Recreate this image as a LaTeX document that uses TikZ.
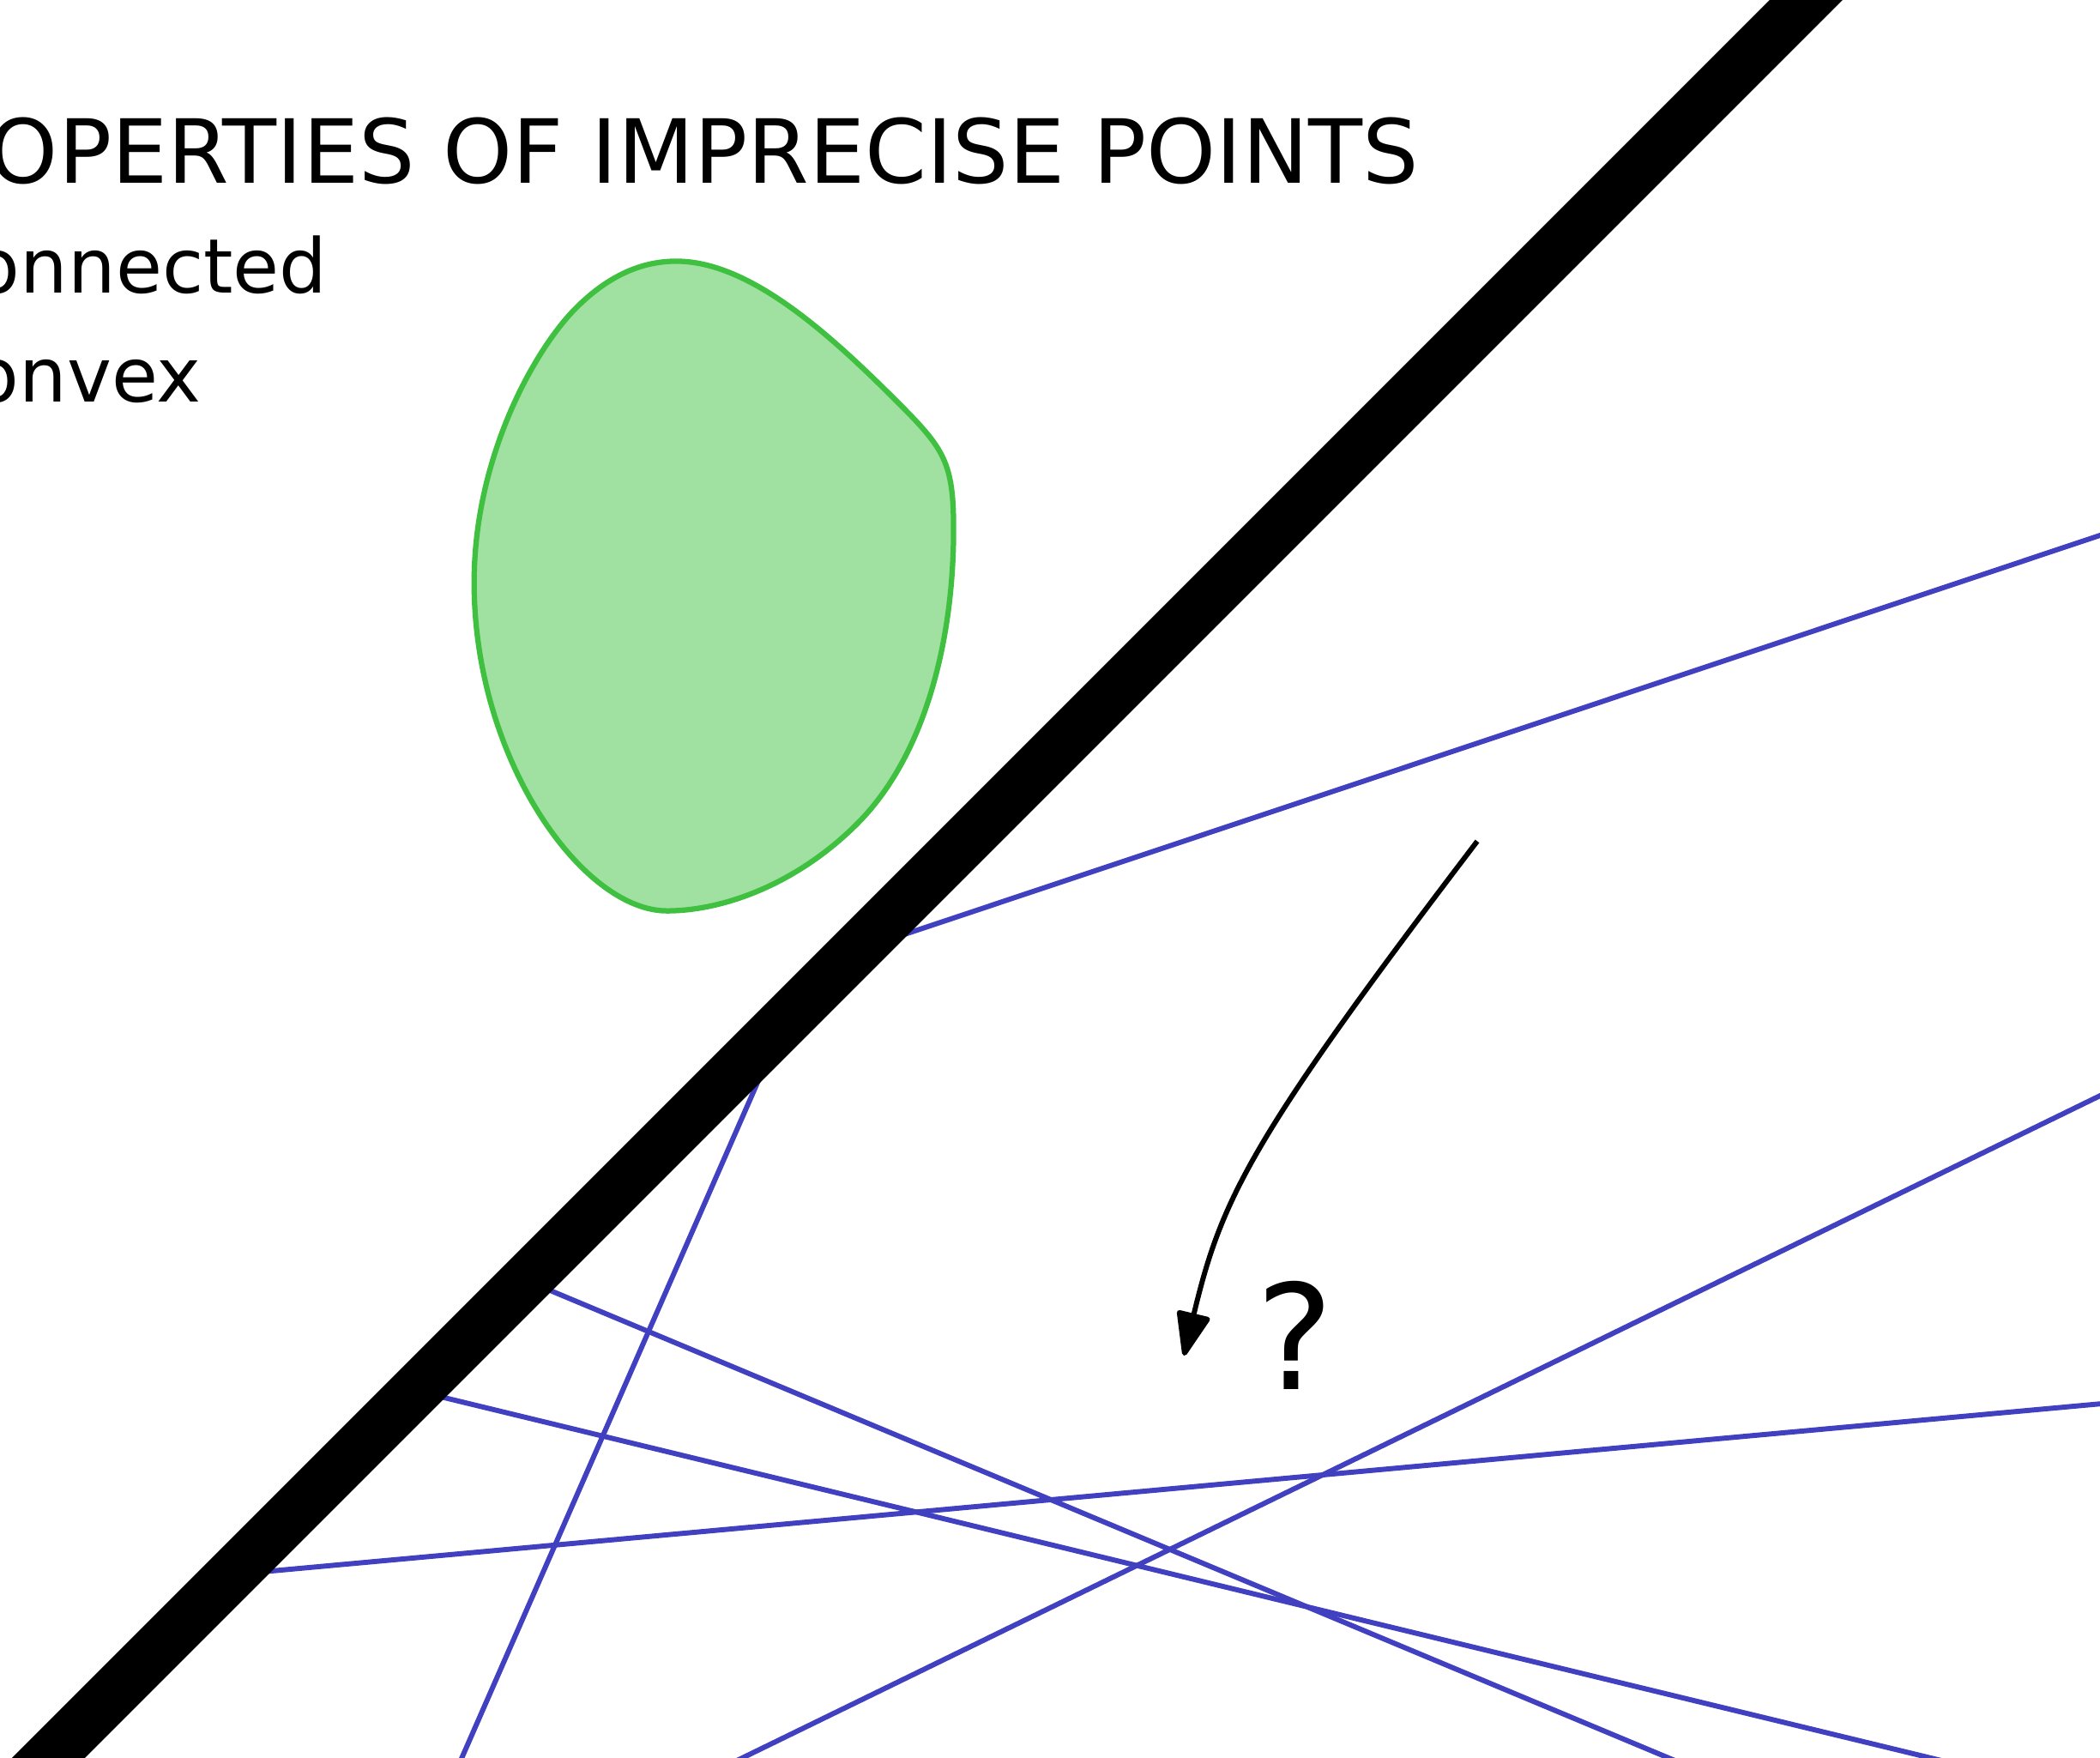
\documentclass[tikz,border=0pt]{standalone}
\usepackage{fontspec}
\setmainfont{DejaVu Sans}
\usetikzlibrary{arrows.meta}
\definecolor{RegionFill}{HTML}{A0E0A0}
\definecolor{RegionEdge}{HTML}{40C040}
\definecolor{DualBlue}{HTML}{4040C0}

\begin{document}
\begin{tikzpicture}[
  titletext/.style={anchor=base east,inner sep=0pt,font=\fontsize{18.8}{22}\selectfont},
  itemtext/.style={anchor=base east,inner sep=0pt,font=\fontsize{16}{19}\selectfont},
  region/.style={draw=RegionEdge,fill=RegionFill,line width=0.4mm},
  dual/.style={DualBlue,line width=0.38mm},
  wall/.style={line width=3.85mm},
  move/.style={-{Triangle[length=3.6mm,width=2.6mm,round]},line width=0.38mm}
]
\useasboundingbox (0,0) rectangle (15.68,13.12);
\clip (0,0) rectangle (15.68,13.12);

% imprecise point
\draw[region] (5.05,11.17)
  .. controls (5.60,11.17) and (6.20,10.62) .. (6.70,10.12)
  .. controls (7.05,9.77) and (7.12,9.67) .. (7.12,9.17)
  .. controls (7.12,8.32) and (6.90,7.47) .. (6.40,6.97)
  .. controls (5.95,6.52) and (5.40,6.32) .. (4.98,6.32)
  .. controls (4.35,6.32) and (3.54,7.45) .. (3.54,8.77)
  .. controls (3.54,9.72) and (4.00,10.52) .. (4.30,10.82)
  .. controls (4.55,11.07) and (4.80,11.17) .. cycle;

% dual lines
\draw[dual] (6.38,6.02) -- (16.00,9.23);
\draw[dual] (5.853,5.488) -- (3.327,-0.28);
\draw[dual] (3.927,3.562) -- (13.12,-0.28);
\draw[dual] (3.103,2.738) -- (15.555,-0.28);
\draw[dual] (1.73,1.365) -- (16.00,2.669);
\draw[dual] (4.976,-0.28) -- (16.00,5.096);

% separating line
\draw[wall] (13.885,13.52) -- (-0.015,-0.38);

% text
\node[titletext] (title) at (10.60,11.75) {PROPERTIES OF IMPRECISE POINTS};
\node[itemtext] (conn) at (2.45,10.93) {connected};
\node[itemtext] (conv) at (1.51,10.12) {convex};
\node[anchor=base,inner sep=0pt,font=\fontsize{31}{36}\selectfont] (ask) at (9.67,2.75) {?};

% arrow
\coordinate (from) at (11.03,6.84);
\coordinate (to) at (8.84,3.00);
\draw[move] (from) .. controls (9.33,4.61) and (9.12,4.17) .. (to);
\end{tikzpicture}
\end{document}
